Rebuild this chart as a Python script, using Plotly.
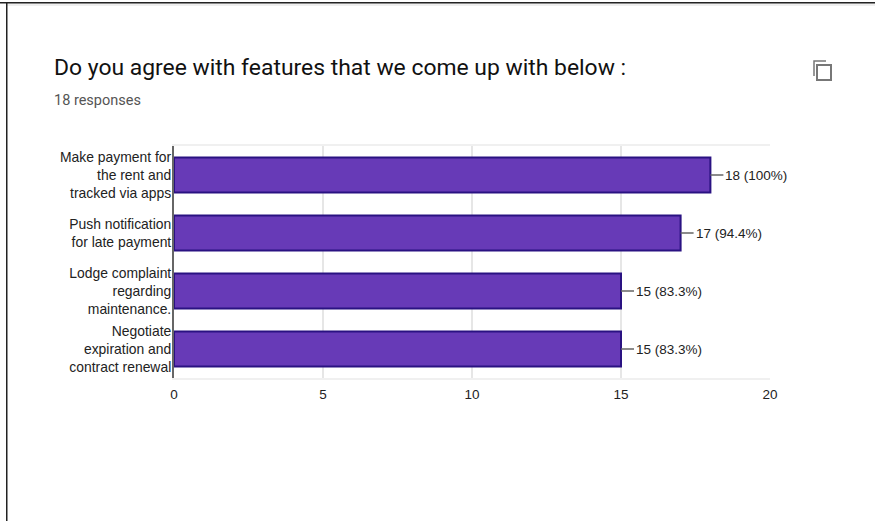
import plotly.graph_objects as go

W, H = 875, 521

features = [
    "Make payment for<br>the rent and<br>tracked via apps",
    "Push notification<br>for late payment",
    "Lodge complaint<br>regarding<br>maintenance.",
    "Negotiate<br>expiration and<br>contract renewal",
]
counts = [18, 17, 15, 15]
count_labels = ["18 (100%)", "17 (94.4%)", "15 (83.3%)", "15 (83.3%)"]
x_ticks = [0, 5, 10, 15, 20]

TEXT = "#222222"
SANS = "Liberation Sans, Arial, sans-serif"


def px(x):
    return x / W


def py(y):
    return 1 - y / H


fig = go.Figure(
    go.Bar(
        x=counts,
        y=features,
        orientation="h",
        width=0.6,
        marker=dict(color="#673ab7", line=dict(color="#2a1282", width=2)),
        hoverinfo="skip",
    )
)

# Count labels sit at the end of a short leader line from each bar
for feature, count, label in zip(features, counts, count_labels):
    fig.add_annotation(
        x=count, y=feature, xref="x", yref="y",
        text=label, showarrow=True, arrowhead=0, arrowwidth=1.5, arrowcolor="#666666",
        ax=13, ay=0, axref="pixel", ayref="pixel",
        xanchor="left", align="left",
        font=dict(family=SANS, size=13.5, color=TEXT),
    )

fig.add_annotation(
    x=px(52), y=py(67), xref="paper", yref="paper", xanchor="left", yanchor="middle",
    text="Do you agree with features that we come up with below :", showarrow=False,
    font=dict(family="Roboto, sans-serif", size=22.9, color="#111111"),
)
fig.add_annotation(
    x=px(52), y=py(100), xref="paper", yref="paper", xanchor="left", yanchor="middle",
    text="18 responses", showarrow=False,
    font=dict(family="Roboto, sans-serif", size=14.5, color="#555555"),
)


def frame(x0, y0, x1, y1, **style):
    fig.add_shape(type="rect", xref="paper", yref="paper",
                  x0=px(x0), x1=px(x1), y0=py(y0), y1=py(y1), **style)


# Page edge along the top and left
frame(6, 3, W, 6, fillcolor="#efefef", line_width=0, layer="below")
frame(0, 2, W, 3.5, fillcolor="#222222", line_width=0, layer="below")
frame(6, 2, 7.5, H, fillcolor="#222222", line_width=0, layer="below")

# Copy icon in the card's corner
frame(817, 65, 831, 80, line=dict(color="#777777", width=2))
fig.add_shape(type="path", xref="paper", yref="paper",
              path=f"M {px(814)} {py(76)} L {px(814)} {py(61)} L {px(826)} {py(61)}",
              line=dict(color="#777777", width=1.5))

fig.update_layout(
    width=W, height=H,
    margin=dict(l=0, r=0, t=0, b=0),
    paper_bgcolor="white",
    plot_bgcolor="white",
    showlegend=False,
    xaxis=dict(
        domain=[px(174), px(770)], range=[0, 20], automargin=False,
        tickvals=x_ticks, ticks="", showgrid=True, gridcolor="#e6e6e6", gridwidth=2,
        zeroline=False, showline=True, linecolor="#f0f0f0", linewidth=2, mirror=True,
        ticklabelstandoff=3,
        tickfont=dict(family=SANS, size=13.5, color=TEXT),
    ),
    yaxis=dict(
        domain=[py(378), py(146)], autorange="reversed", automargin=False,
        showgrid=False, ticks="", zeroline=False,
        showline=True, linecolor="#666666", linewidth=2,
        ticklabelstandoff=-2,
        tickfont=dict(family=SANS, size=13.9, color=TEXT),
    ),
)

fig.write_html("out.html")
